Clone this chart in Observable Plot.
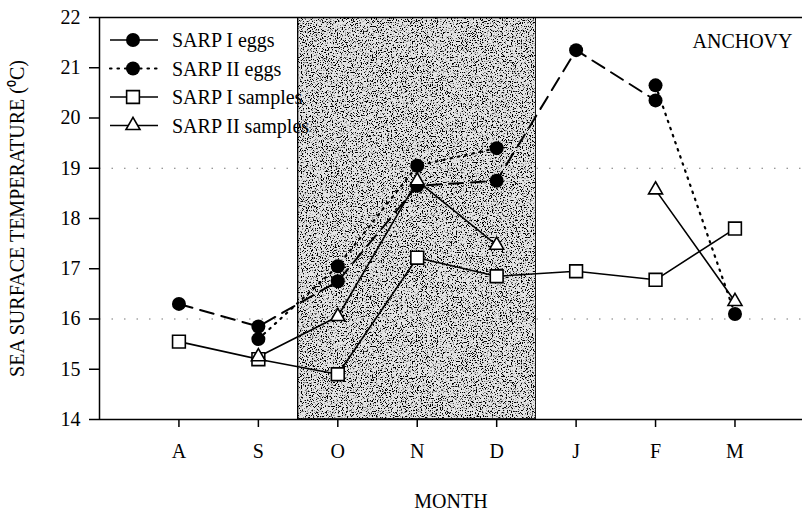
<!DOCTYPE html>
<html>
<head>
<meta charset="utf-8">
<script src="https://cdn.jsdelivr.net/npm/d3@7"></script>
<script src="https://cdn.jsdelivr.net/npm/@observablehq/plot@0.6"></script>
<style>
  html, body { margin: 0; padding: 0; background: white; }
  #chart { position: relative; width: 802px; height: 512px; font-family: "Liberation Serif", serif; }
  #legend { position: absolute; left: 0; top: 0; pointer-events: none; }
</style>
</head>
<body>
<div id="chart"></div>
<script>
// ---- data ----
const months = ["A", "S", "O", "N", "D", "J", "F", "M"];
const sarp1Eggs    = [16.3, 15.85, 16.75, 18.65, 18.75, 21.35, 20.35, null];
const sarp2Eggs    = [null, 15.6, 17.05, 19.05, 19.4, null, 20.65, 16.1];
const sarp1Samples = [15.55, 15.2, 14.9, 17.22, 16.85, 16.95, 16.78, 17.8];
const sarp2Samples = [null, 15.25, 16.05, 18.75, 17.47, null, 18.57, 16.35];
const seriesNames  = ["SARP I eggs", "SARP II eggs", "SARP I samples", "SARP II samples"];
const yTicks = [14, 15, 16, 17, 18, 19, 20, 21, 22];
const dottedGrid = [16, 19];
const shadedPeriod = [{start: 1.5, end: 4.5}]; // between S/O and D/J
const panelLabel = "ANCHOVY";

const toRows = vals => vals.map((v, i) => ({i, v}));
const s1e = toRows(sarp1Eggs), s2e = toRows(sarp2Eggs), s1s = toRows(sarp1Samples), s2s = toRows(sarp2Samples);

const font = "Liberation Serif";
const chart = Plot.plot({
  width: 802,
  height: 512,
  marginLeft: 99,
  marginRight: 0,
  marginTop: 17,
  marginBottom: 93,
  style: {fontFamily: font, fontSize: "20px", background: "white", color: "black", overflow: "visible"},
  x: {domain: [-1, 7.85]},
  y: {domain: [14, 22]},
  marks: [
    Plot.rect(shadedPeriod, {x1: "start", x2: "end", y1: 14, y2: 22, fill: "#e4e4e4", stroke: "black", strokeWidth: 1.5, className: "shade"}),
    Plot.ruleY(dottedGrid, {stroke: "#777", strokeDasharray: "1.5,11", strokeWidth: 1.2}),
    Plot.ruleY([14, 22], {stroke: "black", strokeWidth: 1.5}),
    Plot.ruleX([-1], {stroke: "black", strokeWidth: 1.5}),
    Plot.line(s1e, {x: "i", y: "v", stroke: "black", strokeWidth: 2, strokeDasharray: "14,8"}),
    Plot.line(s2e, {x: "i", y: "v", stroke: "black", strokeWidth: 2.2, strokeDasharray: "1.5,6", strokeLinecap: "round"}),
    Plot.line(s1s, {x: "i", y: "v", stroke: "black", strokeWidth: 1.6}),
    Plot.line(s2s, {x: "i", y: "v", stroke: "black", strokeWidth: 1.6}),
    Plot.dot(s1e, {x: "i", y: "v", r: 7, fill: "black"}),
    Plot.dot(s2e, {x: "i", y: "v", r: 7, fill: "black"}),
    Plot.dot(s1s, {x: "i", y: "v", r: 7.2, symbol: "square", fill: "white", stroke: "black", strokeWidth: 1.6}),
    Plot.dot(s2s, {x: "i", y: "v", r: 5.2, symbol: "triangle", fill: "white", stroke: "black", strokeWidth: 1.6}),
    Plot.text([panelLabel], {frameAnchor: "top-right", dx: -10, dy: 24, textAnchor: "end", lineAnchor: "middle", fontSize: 20, fill: "black"}),
    Plot.axisX({ticks: d3.range(months.length), tickFormat: i => months[i], tickSize: 8, tickPadding: 16, label: null, strokeWidth: 1.5}),
    Plot.axisY({ticks: yTicks, tickSize: 10, tickPadding: 9, label: null, strokeWidth: 1.5}),
    Plot.axisX({ticks: [], label: "MONTH", labelAnchor: "center", labelArrow: "none", labelOffset: 88}),
    Plot.axisY({ticks: [], label: "SEA SURFACE TEMPERATURE (\u2070C)", labelAnchor: "center", labelArrow: "none", labelOffset: 90})
  ]
});

// stipple texture for shaded period
const svg = d3.select(chart);
const defs = svg.insert("defs", ":first-child");
const filt = defs.append("filter").attr("id", "stipple").attr("x", 0).attr("y", 0).attr("width", 1).attr("height", 1);
filt.append("feTurbulence").attr("type", "fractalNoise").attr("baseFrequency", 0.8).attr("numOctaves", 3).attr("seed", 5).attr("result", "noise");
filt.append("feColorMatrix").attr("in", "noise").attr("type", "matrix")
  .attr("values", "0 0 0 0 0  0 0 0 0 0  0 0 0 0 0  0 0 0 9 -4.75").attr("result", "dots");
filt.append("feComposite").attr("in", "dots").attr("in2", "SourceGraphic").attr("operator", "in").attr("result", "clipped");
const merge = filt.append("feMerge");
merge.append("feMergeNode").attr("in", "SourceGraphic");
merge.append("feMergeNode").attr("in", "clipped");
svg.selectAll(".shade rect").attr("filter", "url(#stipple)");

const container = document.getElementById("chart");
container.appendChild(chart);

// legend overlay
const lsvg = d3.select(container).append("svg").attr("id", "legend").attr("width", 802).attr("height", 512);
const styles = [
  {dash: null, marker: "circle"},
  {dash: "1.5,6", marker: "circle"},
  {dash: null, marker: "square"},
  {dash: null, marker: "triangle"}
];
seriesNames.forEach((name, k) => {
  const g = lsvg.append("g").attr("transform", `translate(133, ${40 + k * 28.5})`);
  g.append("line").attr("x1", -23).attr("x2", 25).attr("stroke", "black").attr("stroke-width", k === 1 ? 2.2 : 1.6)
    .attr("stroke-dasharray", styles[k].dash).attr("stroke-linecap", k === 1 ? "round" : "butt");
  if (styles[k].marker === "circle") g.append("circle").attr("r", 7).attr("fill", "black");
  else if (styles[k].marker === "square") g.append("path").attr("d", d3.symbol(d3.symbolSquare, Math.PI * 7.2 * 7.2)()).attr("fill", "white").attr("stroke", "black").attr("stroke-width", 1.6);
  else g.append("path").attr("d", d3.symbol(d3.symbolTriangle, Math.PI * 5.2 * 5.2)()).attr("fill", "white").attr("stroke", "black").attr("stroke-width", 1.6);
  g.append("text").attr("x", 39).attr("dy", "0.35em").attr("font-family", font).attr("font-size", 20).text(name);
});
</script>
</body>
</html>
